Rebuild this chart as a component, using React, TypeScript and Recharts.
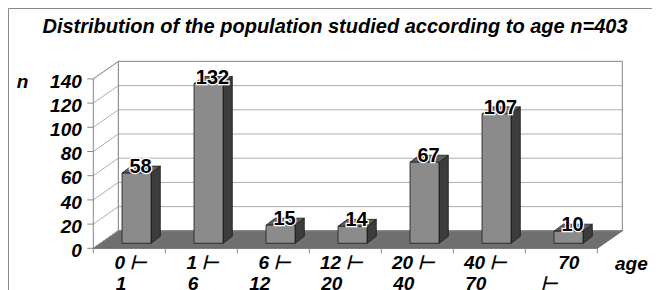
import { BarChart, Bar, XAxis, YAxis, CartesianGrid } from "recharts";

// age groups, two lines per label
const AGE_LINE1 = ["0 ⊢", "1 ⊢", "6 ⊢", "12 ⊢", "20 ⊢", "40 ⊢", "70"];
const AGE_LINE2 = ["1", "6", "12", "20", "40", "70", "⊢"];
const COUNTS = [58, 132, 15, 14, 67, 107, 10];
const Y_TICKS = [0, 20, 40, 60, 80, 100, 120, 140];

const data = COUNTS.map((n, i) => ({ age: AGE_LINE1[i] + "|" + AGE_LINE2[i], n }));

const FONT = '"Liberation Sans", Arial, sans-serif';
const W = 652;
const H = 282;

// front plane of the 3d box
const FX0 = 85.3;
const FX1 = 589.3;
const FY0 = 240.3;
const FY1 = 70.9;
// depth of the floor
const DX = 25;
const DY = -17.5;
// plane where the bars stand
const BX = 7.1;
const BY = -5;
// bar depth
const BDX = 9.3;
const BDY = -7;

const YAXIS_W = 60;
const XAXIS_H = 40;
const BAND = (FX1 - FX0) / COUNTS.length;

const Bar3D = (props: any) => {
  const { x, y, width, height } = props;
  const s = { stroke: "#1a1a1a", strokeWidth: 0.8, strokeLinejoin: "round" as const };
  return (
    <g>
      <polygon
        points={`${x + width},${y} ${x + width + BDX},${y + BDY} ${x + width + BDX},${y + height + BDY} ${x + width},${y + height}`}
        fill="#3c3c3c"
        {...s}
      />
      <polygon
        points={`${x},${y} ${x + BDX},${y + BDY} ${x + width + BDX},${y + BDY} ${x + width},${y}`}
        fill="#5e5e5e"
        {...s}
      />
      <rect x={x} y={y} width={width} height={height} fill="#8b8b8b" {...s} />
    </g>
  );
};

const renderLabel = (props: any) => {
  const { x, y, width, value } = props;
  return (
    <text
      x={x + width / 2 + 4}
      y={y}
      textAnchor="middle"
      fontFamily={FONT}
      fontWeight="bold"
      fontSize={20}
      fill="#000"
      stroke="#fff"
      strokeWidth={2.5}
      paintOrder="stroke"
    >
      {value}
    </text>
  );
};

const gridLine = (props: any) => {
  const { y1, x1, x2, key } = props;
  const fy = y1 - BY;
  const fx = x1 - BX;
  const bxR = x2 - BX + DX;
  return (
    <g key={key}>
      <line x1={fx} y1={fy} x2={fx + DX} y2={fy + DY} stroke="#999" strokeWidth={0.8} />
      <line x1={fx + DX} y1={fy + DY} x2={bxR} y2={fy + DY} stroke="#999" strokeWidth={0.8} />
    </g>
  );
};

const YTick = (props: any) => {
  const { y, payload } = props;
  const fy = y - BY;
  return (
    <g>
      <line x1={FX0 - 6} x2={FX0} y1={fy} y2={fy} stroke="#888" />
      <text
        x={FX0 - 11.5}
        y={fy + 2}
        dy="0.35em"
        textAnchor="end"
        fontFamily={FONT}
        fontWeight="bold"
        fontStyle="italic"
        fontSize={19}
        fill="#000"
      >
        {payload.value}
      </text>
    </g>
  );
};

const XTick = (props: any) => {
  const { x, payload, index } = props;
  const c = x - BX;
  const [l1, l2] = String(payload.value).split("|");
  const txt = { fontFamily: FONT, fontWeight: "bold", fontStyle: "italic", fontSize: 19, fill: "#000" };
  return (
    <g>
      <line x1={c - BAND / 2} x2={c - BAND / 2} y1={FY0} y2={FY0 + 5} stroke="#888" />
      {index === COUNTS.length - 1 && (
        <line x1={c + BAND / 2} x2={c + BAND / 2} y1={FY0} y2={FY0 + 5} stroke="#888" />
      )}
      <text x={c + 18} y={FY0 + 20.2} textAnchor="end" {...txt}>
        {l1}
      </text>
      <text x={c - 3} y={FY0 + 41.2} textAnchor="end" {...txt}>
        {l2}
      </text>
    </g>
  );
};

const Background = () => (
  <svg width={W} height={H} style={{ position: "absolute", left: 0, top: 0 }}>
    <line x1={0.5} y1={0.5} x2={W} y2={0.5} stroke="#888" />
    <line x1={0.5} y1={0.5} x2={0.5} y2={H} stroke="#888" />
    <text
      x={327}
      y={25}
      textAnchor="middle"
      fontFamily={FONT}
      fontWeight="bold"
      fontStyle="italic"
      fontSize={20}
    >
      Distribution of the population studied according to age n=403
    </text>
    <rect x={FX0 + DX} y={FY1 + DY} width={FX1 - FX0} height={FY0 - FY1} fill="#fff" stroke="#888" />
    <polygon
      points={`${FX0},${FY0} ${FX0},${FY1} ${FX0 + DX},${FY1 + DY} ${FX0 + DX},${FY0 + DY}`}
      fill="#fff"
      stroke="#888"
    />
    <polygon
      points={`${FX0},${FY0} ${FX1},${FY0} ${FX1 + DX},${FY0 + DY} ${FX0 + DX},${FY0 + DY}`}
      fill="#6f6f6f"
      stroke="#666"
    />
    <text x={8.7} y={80.3} fontFamily={FONT} fontWeight="bold" fontStyle="italic" fontSize={19}>
      n
    </text>
    <text x={607} y={262} fontFamily={FONT} fontWeight="bold" fontStyle="italic" fontSize={19}>
      age
    </text>
  </svg>
);

export default function App() {
  return (
    <div style={{ position: "relative", width: W, height: H }}>
      <Background />
      <div style={{ position: "absolute", left: 0, top: 0 }}>
        <BarChart
          width={W}
          height={H}
          data={data}
          barCategoryGap="30%"
          margin={{
            top: FY1 + BY,
            left: FX0 + BX - YAXIS_W,
            right: W - (FX1 + BX),
            bottom: H - (FY0 + BY) - XAXIS_H,
          }}
        >
          <CartesianGrid vertical={false} horizontal={gridLine} />
          <XAxis
            dataKey="age"
            height={XAXIS_H}
            axisLine={false}
            tickLine={false}
            interval={0}
            tick={<XTick />}
          />
          <YAxis
            width={YAXIS_W}
            domain={[0, 140]}
            ticks={Y_TICKS}
            axisLine={false}
            tickLine={false}
            tick={<YTick />}
          />
          <Bar dataKey="n" shape={<Bar3D />} label={renderLabel} isAnimationActive={false} />
        </BarChart>
      </div>
    </div>
  );
}
